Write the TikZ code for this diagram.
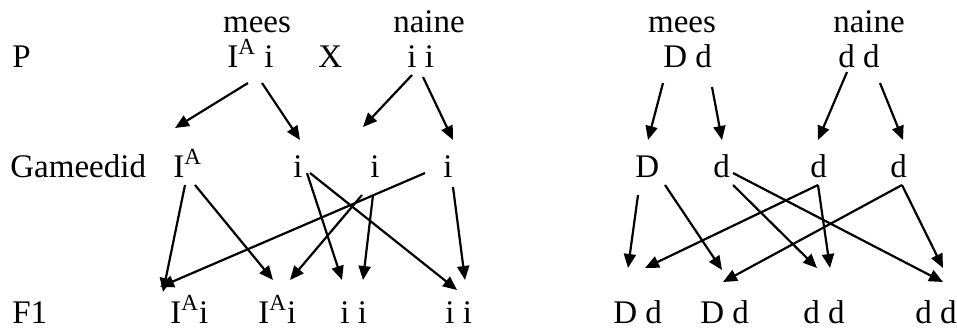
\documentclass[tikz,border=0pt]{standalone}
\usepackage{fontspec}
\setmainfont{Liberation Serif}
\usetikzlibrary{arrows.meta}

\tikzset{
    txt/.style={anchor=base west, inner sep=0pt},
    ctxt/.style={anchor=base, inner sep=0pt},
    arr/.style={line width=1.1pt, -{Triangle[length=7pt, width=6pt]}}
}
\newcommand{\IA}{I\textsuperscript{A}}

\begin{document}
\begin{tikzpicture}[x=0.5pt, y=-0.5pt, font=\fontsize{16.5}{19}\selectfont]
    \useasboundingbox (0,0) rectangle (957,329);

    % Row labels
    \node[txt] (lblP) at (12,67) {P};
    \node[txt] (lblG) at (10,177) {Gameedid};
    \node[txt] (lblF) at (12,323) {F1};

    % Left cross
    \node[ctxt] (mees1) at (257,32) {mees};
    \node[ctxt] (naine1) at (429,32) {naine};
    \node[txt] (pA) at (227,67) {\IA{} i};
    \node[txt] (cross) at (318,67) {X};
    \node[txt] (pa) at (407,67) {i i};

    \node[txt] (gA) at (173,177) {\IA};
    \node[txt] (gi1) at (293,177) {i};
    \node[txt] (gi2) at (370,177) {i};
    \node[txt] (gi3) at (443,177) {i};

    \node[txt] (fA1) at (170,323) {\IA i};
    \node[txt] (fA2) at (258,323) {\IA i};
    \node[txt] (fa1) at (340,323) {i i};
    \node[txt] (fa2) at (445,323) {i i};

    % Right cross
    \node[ctxt] (mees2) at (682,32) {mees};
    \node[ctxt] (naine2) at (869,32) {naine};
    \node[txt] (pD) at (663,67) {D d};
    \node[txt] (pd) at (838,67) {d d};

    \node[txt] (gD) at (635,177) {D};
    \node[txt] (gd1) at (713,177) {d};
    \node[txt] (gd2) at (810,177) {d};
    \node[txt] (gd3) at (890,177) {d};

    \node[txt] (fD1) at (613,323) {D d};
    \node[txt] (fD2) at (700,323) {D d};
    \node[txt] (fd1) at (803,323) {d d};
    \node[txt] (fd2) at (915,323) {d d};

    % Arrows
    \foreach \n/\tx/\ty/\hx/\hy in {
        a1/248/83/175/128, a2/262/83/300/140,
        a3/412/75/363/127, a4/423/77/453/140,
        b1/185/185/163/292, b2/195/185/273/280,
        b3/307/173/342/280, b4/310/173/457/290,
        b5/373/195/363/280, b6/362/195/290/280,
        b7/425/173/160/287, b8/453/187/465/280,
        c1/663/83/648/140, c2/712/87/722/140,
        c3/847/72/818/140, c4/880/83/903/140,
        d1/638/195/628/268, d2/665/185/722/270,
        d3/733/185/817/268, d4/733/173/943/282,
        d5/818/185/645/268, d6/818/185/830/268,
        d7/902/185/723/282, d8/902/185/943/268} {
        \coordinate (\n-t) at (\tx,\ty);
        \coordinate (\n-h) at (\hx,\hy);
        \draw[arr] (\n-t) -- (\n-h);
    }
\end{tikzpicture}
\end{document}
